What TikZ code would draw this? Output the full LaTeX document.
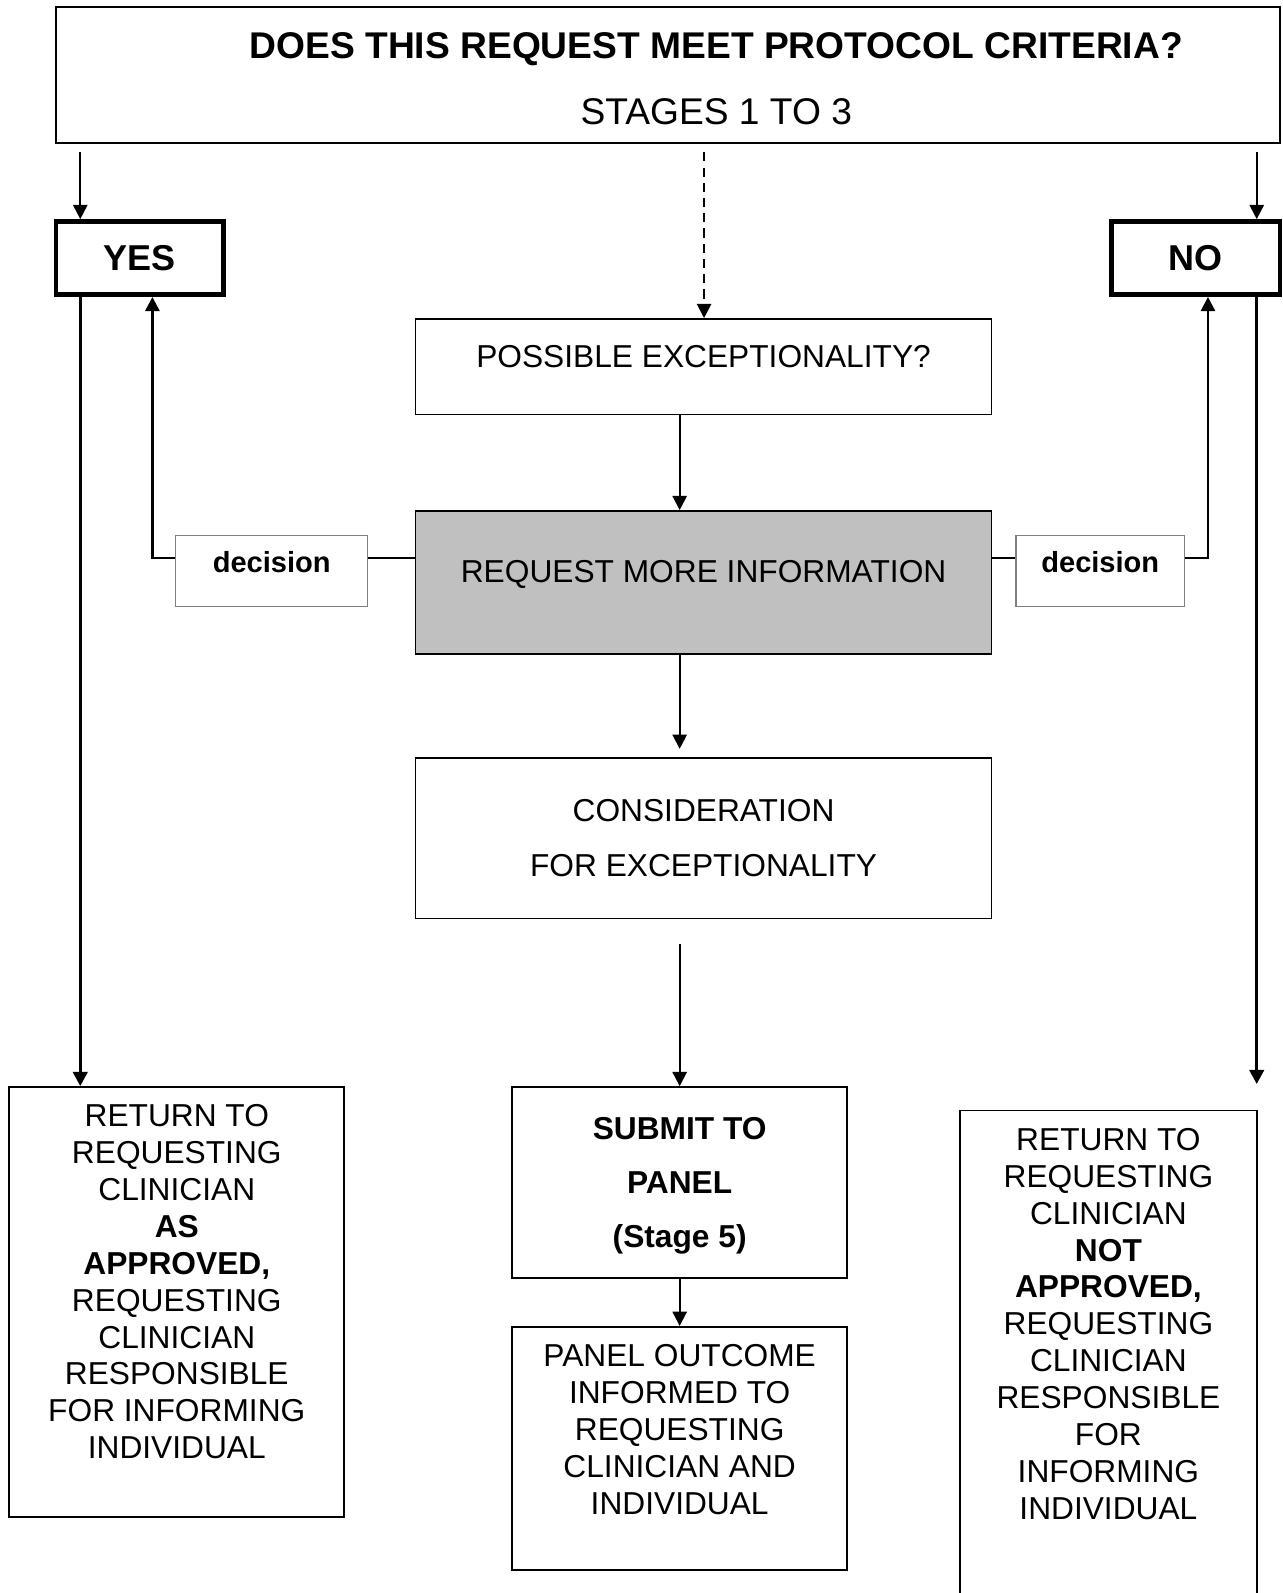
\documentclass[tikz,border=0pt]{standalone}
\usepackage{fontspec}
\setmainfont{Liberation Sans}
\usetikzlibrary{arrows.meta,calc,positioning}
\definecolor{reqgray}{HTML}{C0C0C0}
\definecolor{decline}{HTML}{808080}
\newcommand\flowtxt{\fontsize{15.6pt}{18.15pt}\selectfont}
\newcommand\flowhead{\fontsize{18.3pt}{22pt}\selectfont\bfseries}
\newcommand\flowstage{\fontsize{18.3pt}{22pt}\selectfont}
\newcommand\flowyn{\fontsize{17.7pt}{21pt}\selectfont\bfseries}
\newcommand\flowdec{\fontsize{14.3pt}{17pt}\selectfont\bfseries}
\tikzset{
  box/.style={draw, line width=0.9pt, align=center, inner sep=0pt, font=\flowtxt},
  ynbox/.style={draw, line width=2.3pt, inner sep=0pt, minimum width=82.5pt, minimum height=36pt, font=\flowyn},
  decbox/.style={draw=decline, line width=0.6pt, inner sep=0pt, minimum height=35pt, text depth=9pt, font=\flowdec},
  arr/.style={line width=1pt, -{Triangle[length=7pt,width=7pt]}},
  heavyarr/.style={line width=1.7pt, -{Triangle[length=7pt,width=7pt]}},
  backarr/.style={line width=1.2pt, -{Triangle[length=7pt,width=7pt]}},
  link/.style={line width=1.2pt}
}

\begin{document}
\begin{tikzpicture}[x=0.5pt,y=-0.5pt]
    \useasboundingbox (0,0) rectangle (1262,1568);
    % lanes of the connectors
    \coordinate (laneyes) at (79,0);
    \coordinate (laneno) at (1237,0);
    \coordinate (lanemid) at (669,0);
    \coordinate (lanedash) at (693,0);
    \coordinate (laneyesup) at (150,0);
    \coordinate (lanenoup) at (1189,0);
    \coordinate (decrow) at (0,549);

    \node[box, minimum width=602.5pt, minimum height=67pt] (crit) at (657.5,74) {};
    \node[font=\flowhead, inner sep=0pt] (critq) at (705,48) {DOES THIS REQUEST MEET PROTOCOL CRITERIA?};
    \node[font=\flowstage, inner sep=0pt] (critst) at (705,110) {STAGES 1 TO 3};

    \node[ynbox] (yes) at (137.5,254) {YES};
    \node[ynbox, minimum width=83pt] (no) at (1177,254) {NO};

    \node[box, minimum width=283.5pt, minimum height=47pt, text depth=10pt] (poss) at (692.5,361) {POSSIBLE EXCEPTIONALITY?};
    \node[box, fill=reqgray, minimum width=283.5pt, minimum height=70.5pt, text depth=11.5pt] (req) at (692.5,573.5) {REQUEST MORE INFORMATION};
    \node[decbox, minimum width=94.5pt] (decl) at (267.5,562) {decision};
    \node[decbox, minimum width=83pt] (decr) at (1083,562) {decision};
    \node[box, minimum width=283.5pt, minimum height=79pt] (consid) at (692.5,825) {CONSIDERATION\\[8.85pt]FOR EXCEPTIONALITY};

    \node[box, minimum width=165pt, minimum height=211.5pt, text depth=20pt] (retl) at (174,1281.5)
        {RETURN TO\\REQUESTING\\CLINICIAN\\\textbf{AS}\\\textbf{APPROVED,}\\REQUESTING\\CLINICIAN\\RESPONSIBLE\\FOR INFORMING\\INDIVIDUAL};
    \node[box, font=\flowtxt\bfseries, minimum width=165pt, minimum height=94pt, text depth=0pt] (submit) at (669,1164)
        {SUBMIT TO\\[8.6pt]PANEL\\[8.6pt](Stage 5)};
    \node[box, minimum width=165pt, minimum height=119.5pt, text depth=18.5pt] (outcome) at (669,1425.5)
        {PANEL OUTCOME\\INFORMED TO\\REQUESTING\\CLINICIAN AND\\INDIVIDUAL};
    \node[box, minimum width=146pt, minimum height=263.5pt, text depth=53.5pt] (retr) at (1091,1356.5)
        {RETURN TO\\REQUESTING\\CLINICIAN\\\textbf{NOT}\\\textbf{APPROVED,}\\REQUESTING\\CLINICIAN\\RESPONSIBLE\\FOR\\INFORMING\\INDIVIDUAL};

    \draw[arr, shorten <=4pt] (laneyes |- crit.south) -- (laneyes |- yes.north);
    \draw[arr, shorten <=4pt] (laneno |- crit.south) -- (laneno |- no.north);
    \draw[arr, dash pattern=on 4.5pt off 3pt, shorten <=4pt] (lanedash |- crit.south) -- (lanedash |- poss.north);
    \draw[arr] (lanemid |- poss.south) -- (lanemid |- req.north);
    \draw[arr, shorten >=4pt] (lanemid |- req.south) -- (lanemid |- consid.north);
    \draw[arr, shorten <=12pt] (lanemid |- consid.south) -- (lanemid |- submit.north);
    \draw[arr] (lanemid |- submit.south) -- (lanemid |- outcome.north);

    \draw[heavyarr] (laneyes |- yes.south) -- (laneyes |- retl.north);
    \draw[heavyarr, shorten >=12.5pt] (laneno |- no.south) -- (laneno |- retr.north);

    \draw[link] (req.west |- decrow) -- (decl.east |- decrow);
    \draw[backarr] (decl.west |- decrow) -| (laneyesup |- yes.south);
    \draw[link] (req.east |- decrow) -- (decr.west |- decrow);
    \draw[backarr] (decr.east |- decrow) -| (lanenoup |- no.south);
\end{tikzpicture}
\end{document}
